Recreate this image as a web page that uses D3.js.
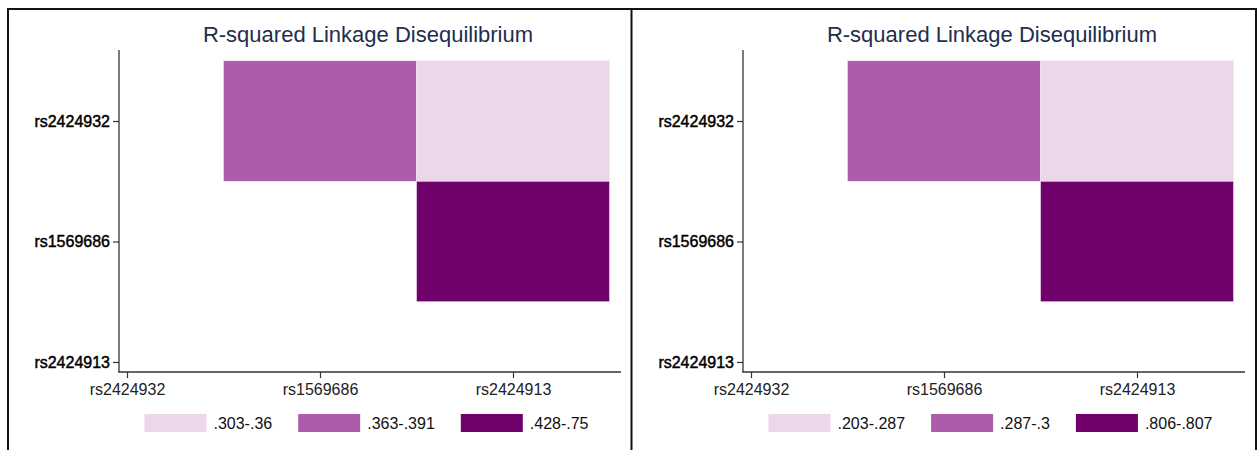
<!DOCTYPE html>
<html>
<head>
<meta charset="utf-8">
<script src="https://cdn.jsdelivr.net/npm/d3@7"></script>
<style>
  body { margin: 0; background: white; }
  svg { display: block; font-family: "Liberation Sans", Arial, sans-serif; }
</style>
</head>
<body>
<svg id="main-svg" width="1258" height="450"></svg>
<script>
// SNP names, same on both axes
const snps = ["rs2424932", "rs1569686", "rs2424913"];

// legend bins for each panel
const binsLeft = [".303-.36", ".363-.391", ".428-.75"];
const binsRight = [".203-.287", ".287-.3", ".806-.807"];

// cells (x snp, y snp, bin index)
const cellsLeft = [
    { x: "rs1569686", y: "rs2424932", bin: 1 },
    { x: "rs2424913", y: "rs2424932", bin: 0 },
    { x: "rs2424913", y: "rs1569686", bin: 2 }
];
const cellsRight = [
    { x: "rs1569686", y: "rs2424932", bin: 1 },
    { x: "rs2424913", y: "rs2424932", bin: 0 },
    { x: "rs2424913", y: "rs1569686", bin: 2 }
];

const titleText = "R-squared Linkage Disequilibrium";
const binColors = ["#ebd7ea", "#ad5cab", "#6f006c"];

const svg = d3.select("#main-svg");

// frame round both panels
svg.append("rect")
    .attr("x", 8).attr("y", 9)
    .attr("width", 1248).attr("height", 460)
    .attr("fill", "none")
    .attr("stroke", "#111")
    .attr("stroke-width", 2);
svg.append("line")
    .attr("x1", 631.5).attr("x2", 631.5)
    .attr("y1", 9).attr("y2", 450)
    .attr("stroke", "#111")
    .attr("stroke-width", 2);

function drawPanel(offsetX, cells, bins) {
    const g = svg.append("g").attr("transform", `translate(${offsetX},0)`);

    const x = d3.scalePoint().domain(snps).range([127, 513]);
    const y = d3.scalePoint().domain(snps).range([121, 362]);
    const color = d3.scaleOrdinal().domain(d3.range(bins.length)).range(binColors);

    const cw = x.step(), ch = y.step();

    // title
    g.append("text")
        .attr("x", 368).attr("y", 42)
        .attr("text-anchor", "middle")
        .attr("fill", "#1e2e4e")
        .style("font-size", "22px")
        .text(titleText);

    // cells
    g.selectAll("rect.cell")
        .data(cells)
        .join("rect")
        .attr("class", "cell")
        .attr("x", d => x(d.x) - cw / 2)
        .attr("y", d => y(d.y) - ch / 2)
        .attr("width", cw)
        .attr("height", ch)
        .attr("fill", d => color(d.bin))
        .attr("stroke", "#f3e6f2")
        .attr("stroke-width", 0.6);

    // axes lines
    const axisColor = "#333";
    g.append("line")
        .attr("x1", 119).attr("x2", 119)
        .attr("y1", 50).attr("y2", 372.5)
        .attr("stroke", axisColor).attr("stroke-width", 1.3);
    g.append("line")
        .attr("x1", 118.5).attr("x2", 621)
        .attr("y1", 372).attr("y2", 372)
        .attr("stroke", axisColor).attr("stroke-width", 1.3);

    // y axis
    const yAxis = g.append("g")
        .attr("transform", "translate(119,0)")
        .call(d3.axisLeft(y).tickSize(6).tickPadding(3));
    yAxis.select(".domain").remove();
    yAxis.selectAll(".tick line").attr("stroke", axisColor).attr("stroke-width", 1.2);
    yAxis.selectAll(".tick text")
        .attr("fill", "#000")
        .attr("stroke", "#000")
        .attr("stroke-width", 0.45)
        .style("font-size", "16px")
        .style("font-family", "'Liberation Sans', Arial, sans-serif");

    // x axis
    const xAxis = g.append("g")
        .attr("transform", "translate(0,372)")
        .call(d3.axisBottom(x).tickSize(6).tickPadding(6));
    xAxis.select(".domain").remove();
    xAxis.selectAll(".tick line").attr("stroke", axisColor).attr("stroke-width", 1.2);
    xAxis.selectAll(".tick text")
        .attr("fill", "#222")
        .style("font-size", "16px")
        .style("font-family", "'Liberation Sans', Arial, sans-serif");

    // legend, laid out by text width and centred
    const legend = g.append("g");
    const swW = 62, swH = 18, gapText = 7, gapItem = 26;
    let cx = 0;
    bins.forEach((label, i) => {
        legend.append("rect")
            .attr("x", cx).attr("y", 414)
            .attr("width", swW).attr("height", swH)
            .attr("fill", binColors[i]);
        const t = legend.append("text")
            .attr("x", cx + swW + gapText).attr("y", 429)
            .attr("fill", "#111")
            .style("font-size", "16px")
            .text(label);
        cx += swW + gapText + t.node().getComputedTextLength() + gapItem;
    });
    const total = cx - gapItem;
    legend.attr("transform", `translate(${366.5 - total / 2},0)`);
}

drawPanel(0, cellsLeft, binsLeft);
drawPanel(624, cellsRight, binsRight);
</script>
</body>
</html>
